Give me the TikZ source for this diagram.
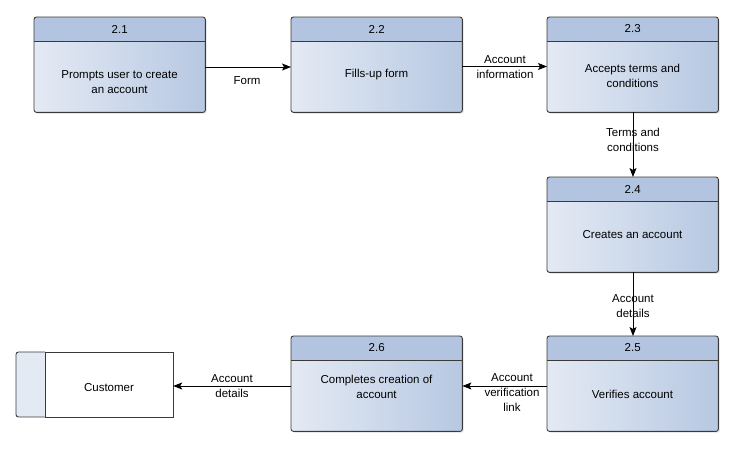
\documentclass[tikz,border=0pt]{standalone}
\usepackage{fontspec}
\setmainfont{Liberation Sans}
\usetikzlibrary{calc,arrows.meta,shadows}
\definecolor{headc}{HTML}{B3C4E0}
\definecolor{bodyl}{HTML}{E4EAF4}
\definecolor{bodyr}{HTML}{B7C8E2}
\definecolor{edgec}{HTML}{3A3A3A}
\tikzset{
  procbody/.style={rectangle, rounded corners=2.5pt, minimum width=171pt, minimum height=95pt,
    left color=bodyl, right color=bodyr, inner sep=0pt, anchor=north west,
    drop shadow={shadow xshift=1.5pt, shadow yshift=-1.5pt, fill=black!25}},
  edgeline/.style={draw=edgec, line width=0.9pt},
  txt/.style={font=\fontsize{11.5}{15}\selectfont, align=center, inner sep=1pt},
  flow/.style={-{Stealth[length=9pt,width=7pt,inset=2pt]}, line width=0.8pt, black},
}
\newcommand\procbox[4]{% name, x, y, number
  \node[procbody] (#1) at (#2,#3) {};
  \begin{scope}
    \clip[rounded corners=2.5pt] (#1.north west) rectangle (#1.south east);
    \fill[headc] (#1.north west) rectangle ($(#1.north east)+(0,24)$);
  \end{scope}
  \draw[edgeline] ($(#1.north west)+(0,24)$) -- ($(#1.north east)+(0,24)$);
  \draw[edgeline, rounded corners=2.5pt] (#1.north west) rectangle (#1.south east);
  \node[txt] (#1num) at ($(#1.north)+(0,12)$) {#4};
}
\begin{document}
\begin{tikzpicture}[x=1pt,y=-1pt]
\useasboundingbox (0,0) rectangle (736,460);

\procbox{p1}{34}{17}{2.1}
\procbox{p2}{291}{17}{2.2}
\procbox{p3}{547}{17}{2.3}
\procbox{p4}{547}{177}{2.4}
\procbox{p5}{547}{336}{2.5}
\procbox{p6}{291}{336}{2.6}

\node[txt] (t1) at (119.5,82.5) {Prompts user to create\\an account};
\node[txt] (t2) at (376.5,75) {Fills-up form};
\node[txt] (t3) at (632.5,75.5) {Accepts terms and\\conditions};
\node[txt] (t4) at (632.5,235) {Creates an account};
\node[txt] (t5) at (632.5,394) {Verifies account};
\node[txt] (t6) at (376.5,386.5) {Completes creation of\\account};

% Customer external entity
\fill[bodyl, rounded corners=2.5pt] (45,352) -- (16,352) -- (16,417) -- (45,417) -- cycle;
\draw[edgeline, rounded corners=2.5pt] (45,352) -- (16,352) -- (16,417) -- (45,417);
\draw[edgeline] (45,352) rectangle (173,417);
\node[txt, minimum width=128pt, minimum height=65pt] (cust) at (109,384.5) {};
\node[txt] (custtxt) at (109,388) {Customer};

% flows
\draw[flow] (p1.east |- 0,67) -- (p2.west |- 0,67);
\node[txt] (l12) at (247,80.5) {Form};

\draw[flow] (p2.east |- 0,66.5) -- (p3.west |- 0,66.5);
\node[txt] (l23) at (505,67) {Account\\information};

\draw[flow] (p3.south -| 633,0) -- (p4.north -| 633,0);
\node[txt] (l34) at (633,140) {Terms and\\conditions};

\draw[flow] (p4.south -| 633,0) -- (p5.north -| 633,0);
\node[txt] (l45) at (633,306) {Account\\details};

\draw[flow] (p5.west |- 0,386) -- (p6.east |- 0,386);
\node[txt] (l56) at (512,393) {Account\\verification\\link};

\draw[flow] (p6.west |- 0,386) -- (cust.east |- 0,386);
\node[txt] (l6c) at (232,386) {Account\\details};
\end{tikzpicture}
\end{document}
